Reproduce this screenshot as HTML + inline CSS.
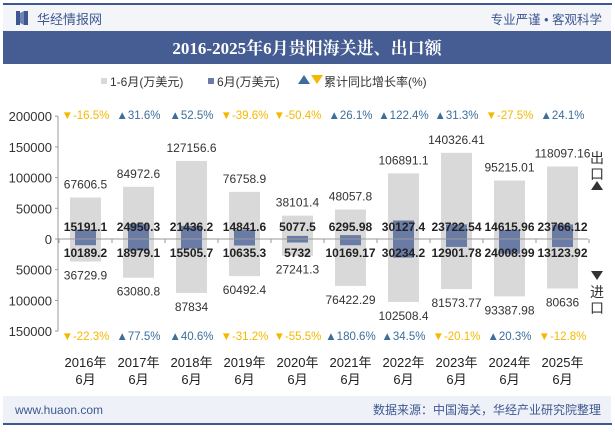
<!DOCTYPE html>
<html><head><meta charset="utf-8"><style>
body{margin:0;width:615px;height:427px;overflow:hidden;background:#fff;font-family:"Liberation Sans","Noto Sans CJK SC",sans-serif}
</style></head><body>
<svg width="615" height="427" xmlns="http://www.w3.org/2000/svg" font-family="Liberation Sans, Noto Sans CJK SC, sans-serif">
<rect x="3" y="3" width="609" height="2" fill="#3e5791"/>
<rect x="3" y="5" width="608" height="26" fill="#f3f5f9"/>
<g><rect x="16" y="11" width="4" height="14" fill="#3e5791"/><rect x="24" y="11" width="4" height="14" fill="#3e5791"/><polygon points="20,13 24,11 24,25 20,23" fill="#6f85b3"/></g>
<text x="37" y="24" font-size="13" fill="#3e5791">华经情报网</text>
<text x="602" y="24" font-size="12.5" fill="#3e5791" text-anchor="end">专业严谨 • 客观科学</text>
<rect x="3" y="31" width="608" height="33" fill="#455d92"/>
<text x="307" y="54" font-size="17" font-weight="bold" fill="#fff" text-anchor="middle" font-family="Liberation Serif, Noto Serif CJK SC, serif">2016-2025年6月贵阳海关进、出口额</text>
<g font-size="12" fill="#333">
<rect x="101" y="78" width="6" height="6" fill="#d9d9d9"/><text x="110" y="86">1-6月(万美元)</text>
<rect x="208" y="78" width="6" height="6" fill="#6a7ca6"/><text x="217" y="86">6月(万美元)</text>
<polygon points="298,84 304,75 310,84" fill="#3b6e9a"/><polygon points="311,75 323,75 317,84" fill="#f5b800"/>
<text x="324" y="86">累计同比增长率(%)</text></g>
<g id="chart"></g>
<text font-size="14" fill="#333" x="597" y="163" text-anchor="middle">出</text>
<text font-size="14" fill="#333" x="597" y="179" text-anchor="middle">口</text>
<polygon points="591,190 597,181 603,190" fill="#333"/>
<polygon points="591,271 603,271 597,280" fill="#333"/>
<text font-size="14" fill="#333" x="597" y="297" text-anchor="middle">进</text>
<text font-size="14" fill="#333" x="597" y="313" text-anchor="middle">口</text>
<rect x="3" y="396" width="608" height="27" fill="#eef1f7"/>
<rect x="3" y="423" width="609" height="2" fill="#3e5791"/>
<text x="15" y="414" font-size="12" fill="#3e5791">www.huaon.com</text>
<text x="601" y="414" font-size="12" fill="#3e5791" text-anchor="end">数据来源：中国海关，华经产业研究院整理</text>
</svg>
<script>
const categories=["2016年","2017年","2018年","2019年","2020年","2021年","2022年","2023年","2024年","2025年"];
const exportYTD=[67606.5,84972.6,127156.6,76758.9,38101.4,48057.8,106891.1,140326.41,95215.01,118097.16];
const importYTD=[36729.9,63080.8,87834,60492.4,27241.3,76422.29,102508.4,81573.77,93387.98,80636];
const exportJun=[15191.1,24950.3,21436.2,14841.6,5077.5,6295.98,30127.4,23722.54,14615.96,23766.12];
const importJun=[10189.2,18979.1,15505.7,10635.3,5732,10169.17,30234.2,12901.78,24008.99,13123.92];
const exportGrowth=[-16.5,31.6,52.5,-39.6,-50.4,26.1,122.4,31.3,-27.5,24.1];
const importGrowth=[-22.3,77.5,40.6,-31.2,-55.5,180.6,34.5,-20.1,20.3,-12.8];
const yTicks=[200000,150000,100000,50000,0,-50000,-100000,-150000];
const NS="http://www.w3.org/2000/svg";
const g=document.getElementById('chart');
const y0=239,perUnit=30.7/50000;
const y=v=>y0-v*perUnit;
const x=i=>85.5+i*53;
function el(t,a,txt){const e=document.createElementNS(NS,t);for(const k in a)e.setAttribute(k,a[k]);if(txt!==undefined)e.textContent=txt;g.appendChild(e);return e;}
let e;
e=el('line',{x1:58,y1:y(200000),x2:58,y2:y(-150000),stroke:'#999'});


yTicks.forEach(t=>{
 e=el('text',{x:52,y:y(t)+5,'font-size':13,fill:'#333','text-anchor':'end'},String(Math.abs(t)));
 
 
 el('line',{x1:55,y1:y(t),x2:58,y2:y(t),stroke:'#999'});
});
categories.forEach((c,i)=>{
 const cx=x(i);
 e=el('rect',{x:cx-15.5,y:y(exportYTD[i]),width:31,height:y(-importYTD[i])-y(exportYTD[i]),fill:'#d9d9d9'});
 
 
 e=el('rect',{x:cx-10.5,y:y(exportJun[i]),width:21,height:y(-importJun[i])-y(exportJun[i]),fill:'#6a7ca6'});
 
 
});
e=el('line',{x1:58,y1:y0,x2:588,y2:y0,stroke:'#999'});


for(let i=0;i<=10;i++)el('line',{x1:59+i*53,y1:y0,x2:59+i*53,y2:y0+4,stroke:'#999'});
categories.forEach((c,i)=>{
 const cx=x(i);
 e=el('text',{x:cx,y:y(exportYTD[i])-9,'font-size':12,fill:'#333','text-anchor':'middle'},String(exportYTD[i]));
 
 
 e=el('text',{x:cx,y:y(-importYTD[i])+18,'font-size':12,fill:'#333','text-anchor':'middle'},String(importYTD[i]));
 
 
 e=el('text',{x:cx,y:231,'font-size':12,'font-weight':'bold',fill:'#222','text-anchor':'middle'},String(exportJun[i]));
 
 
 e=el('text',{x:cx,y:257,'font-size':12,'font-weight':'bold',fill:'#222','text-anchor':'middle'},String(importJun[i]));
 
 
 [[exportGrowth[i],119],[importGrowth[i],340]].forEach(([v,yy])=>{
  const up=v>=0;
  e=el('text',{x:cx,y:yy,'font-size':11.5,fill:up?'#3b6e9a':'#f5b800','text-anchor':'middle'},(up?'▲':'▼')+v.toFixed(1)+'%');
  
  
 });
 e=el('text',{x:cx,y:367,'font-size':13,fill:'#222','text-anchor':'middle'},c);
 
 
 e=el('text',{x:cx,y:384,'font-size':13,fill:'#222','text-anchor':'middle'},'6月');
 
 
});
</script>
</body></html>
